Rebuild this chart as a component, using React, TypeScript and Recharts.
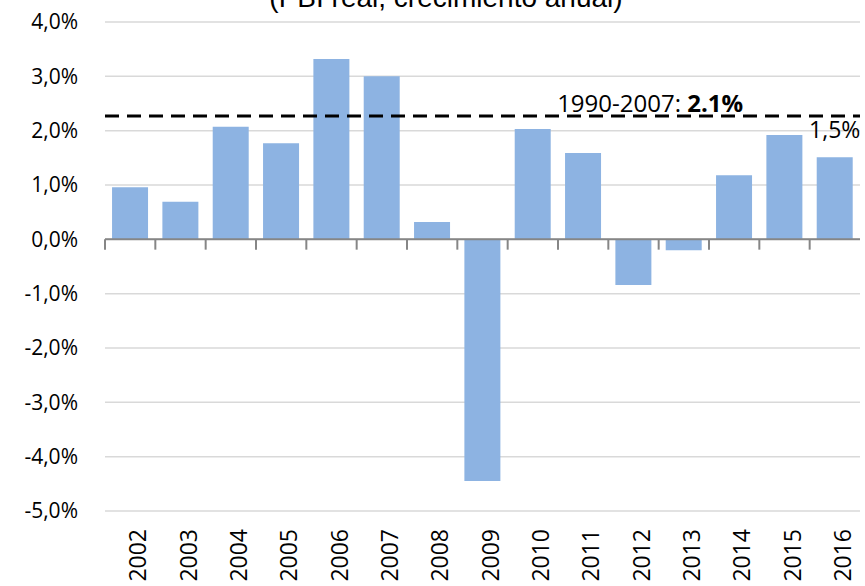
import React from 'react';
import { BarChart, Bar, XAxis, YAxis, CartesianGrid, ReferenceLine, LabelList } from 'recharts';

const years = ['2002','2003','2004','2005','2006','2007','2008','2009','2010','2011','2012','2013','2014','2015','2016'];
const growth = [0.96, 0.69, 2.07, 1.77, 3.32, 3.0, 0.32, -4.45, 2.03, 1.59, -0.84, -0.2, 1.18, 1.92, 1.51];
const barLabels = ['', '', '', '', '', '', '', '', '', '', '', '', '', '', '1,5%'];
const yTicks = [-5, -4, -3, -2, -1, 0, 1, 2, 3, 4];
const avgValue = 2.27;
const title = '(PBI real, crecimiento anual)';

const data = years.map((y, i) => ({ year: y, value: growth[i], label: barLabels[i] }));

const FONT = '"Open Sans", "Noto Sans", sans-serif';
const fmt = (v: number) => v.toFixed(1).replace('.', ',') + '%';

const AvgLabel = (props: any) => {
  const { viewBox } = props;
  const x = viewBox.x + viewBox.width * 0.722;
  const y = viewBox.y - 4;
  return (
    <text x={x} y={y} textAnchor="middle" fontFamily={FONT} fontSize={24} fill="#000">
      <tspan>1990-2007: </tspan>
      <tspan fontWeight="bold">2.1%</tspan>
    </text>
  );
};

export default function App() {
  return (
    <div style={{ position: 'absolute', left: 0, top: 0, width: 865, height: 586, background: '#fff' }}>
      <BarChart width={865} height={586} data={data} margin={{ top: 22, right: 5, bottom: 0, left: 0 }} barCategoryGap="14%">
        <text x={446} y={7} textAnchor="middle" fontFamily='"Liberation Sans Narrow", "Liberation Sans", sans-serif' fontSize={28} fill="#000">{title}</text>
        <CartesianGrid vertical={false} stroke="#d9d9d9" strokeWidth={1.5} />
        <XAxis
          dataKey="year"
          axisLine={false}
          tickLine={false}
          height={75}
          interval={0}
          tick={{ fontFamily: FONT, fontSize: 23, fill: '#000' }}
          angle={-90}
          textAnchor="end"
          tickMargin={20}
          dy={-8}
        />
        <YAxis
          domain={[-5, 4]}
          ticks={yTicks}
          interval={0}
          axisLine={false}
          tickLine={false}
          tickSize={0}
          tickMargin={27}
          width={105}
          tickFormatter={fmt}
          tick={{ fontFamily: FONT, fontSize: 21, fill: '#000' }}
        />
        <Bar dataKey="value" fill="#8db3e2" isAnimationActive={false}>
          <LabelList dataKey="label" position="top" offset={19} style={{ fontFamily: FONT, fontSize: 23, fill: '#000' }} />
        </Bar>
        <ReferenceLine y={0} stroke="#868686" strokeWidth={2} />
        {years.map((yr) => (
          <ReferenceLine key={'t' + yr} segment={[{ x: yr, y: 0 }, { x: yr, y: -0.19 }]} position="start" stroke="#868686" strokeWidth={2} />
        ))}
        <ReferenceLine segment={[{ x: years[years.length - 1], y: 0 }, { x: years[years.length - 1], y: -0.19 }]} position="end" stroke="#868686" strokeWidth={2} />
        <ReferenceLine y={avgValue} stroke="#000" strokeWidth={3} strokeDasharray="14 8" label={<AvgLabel />} />
      </BarChart>
    </div>
  );
}
